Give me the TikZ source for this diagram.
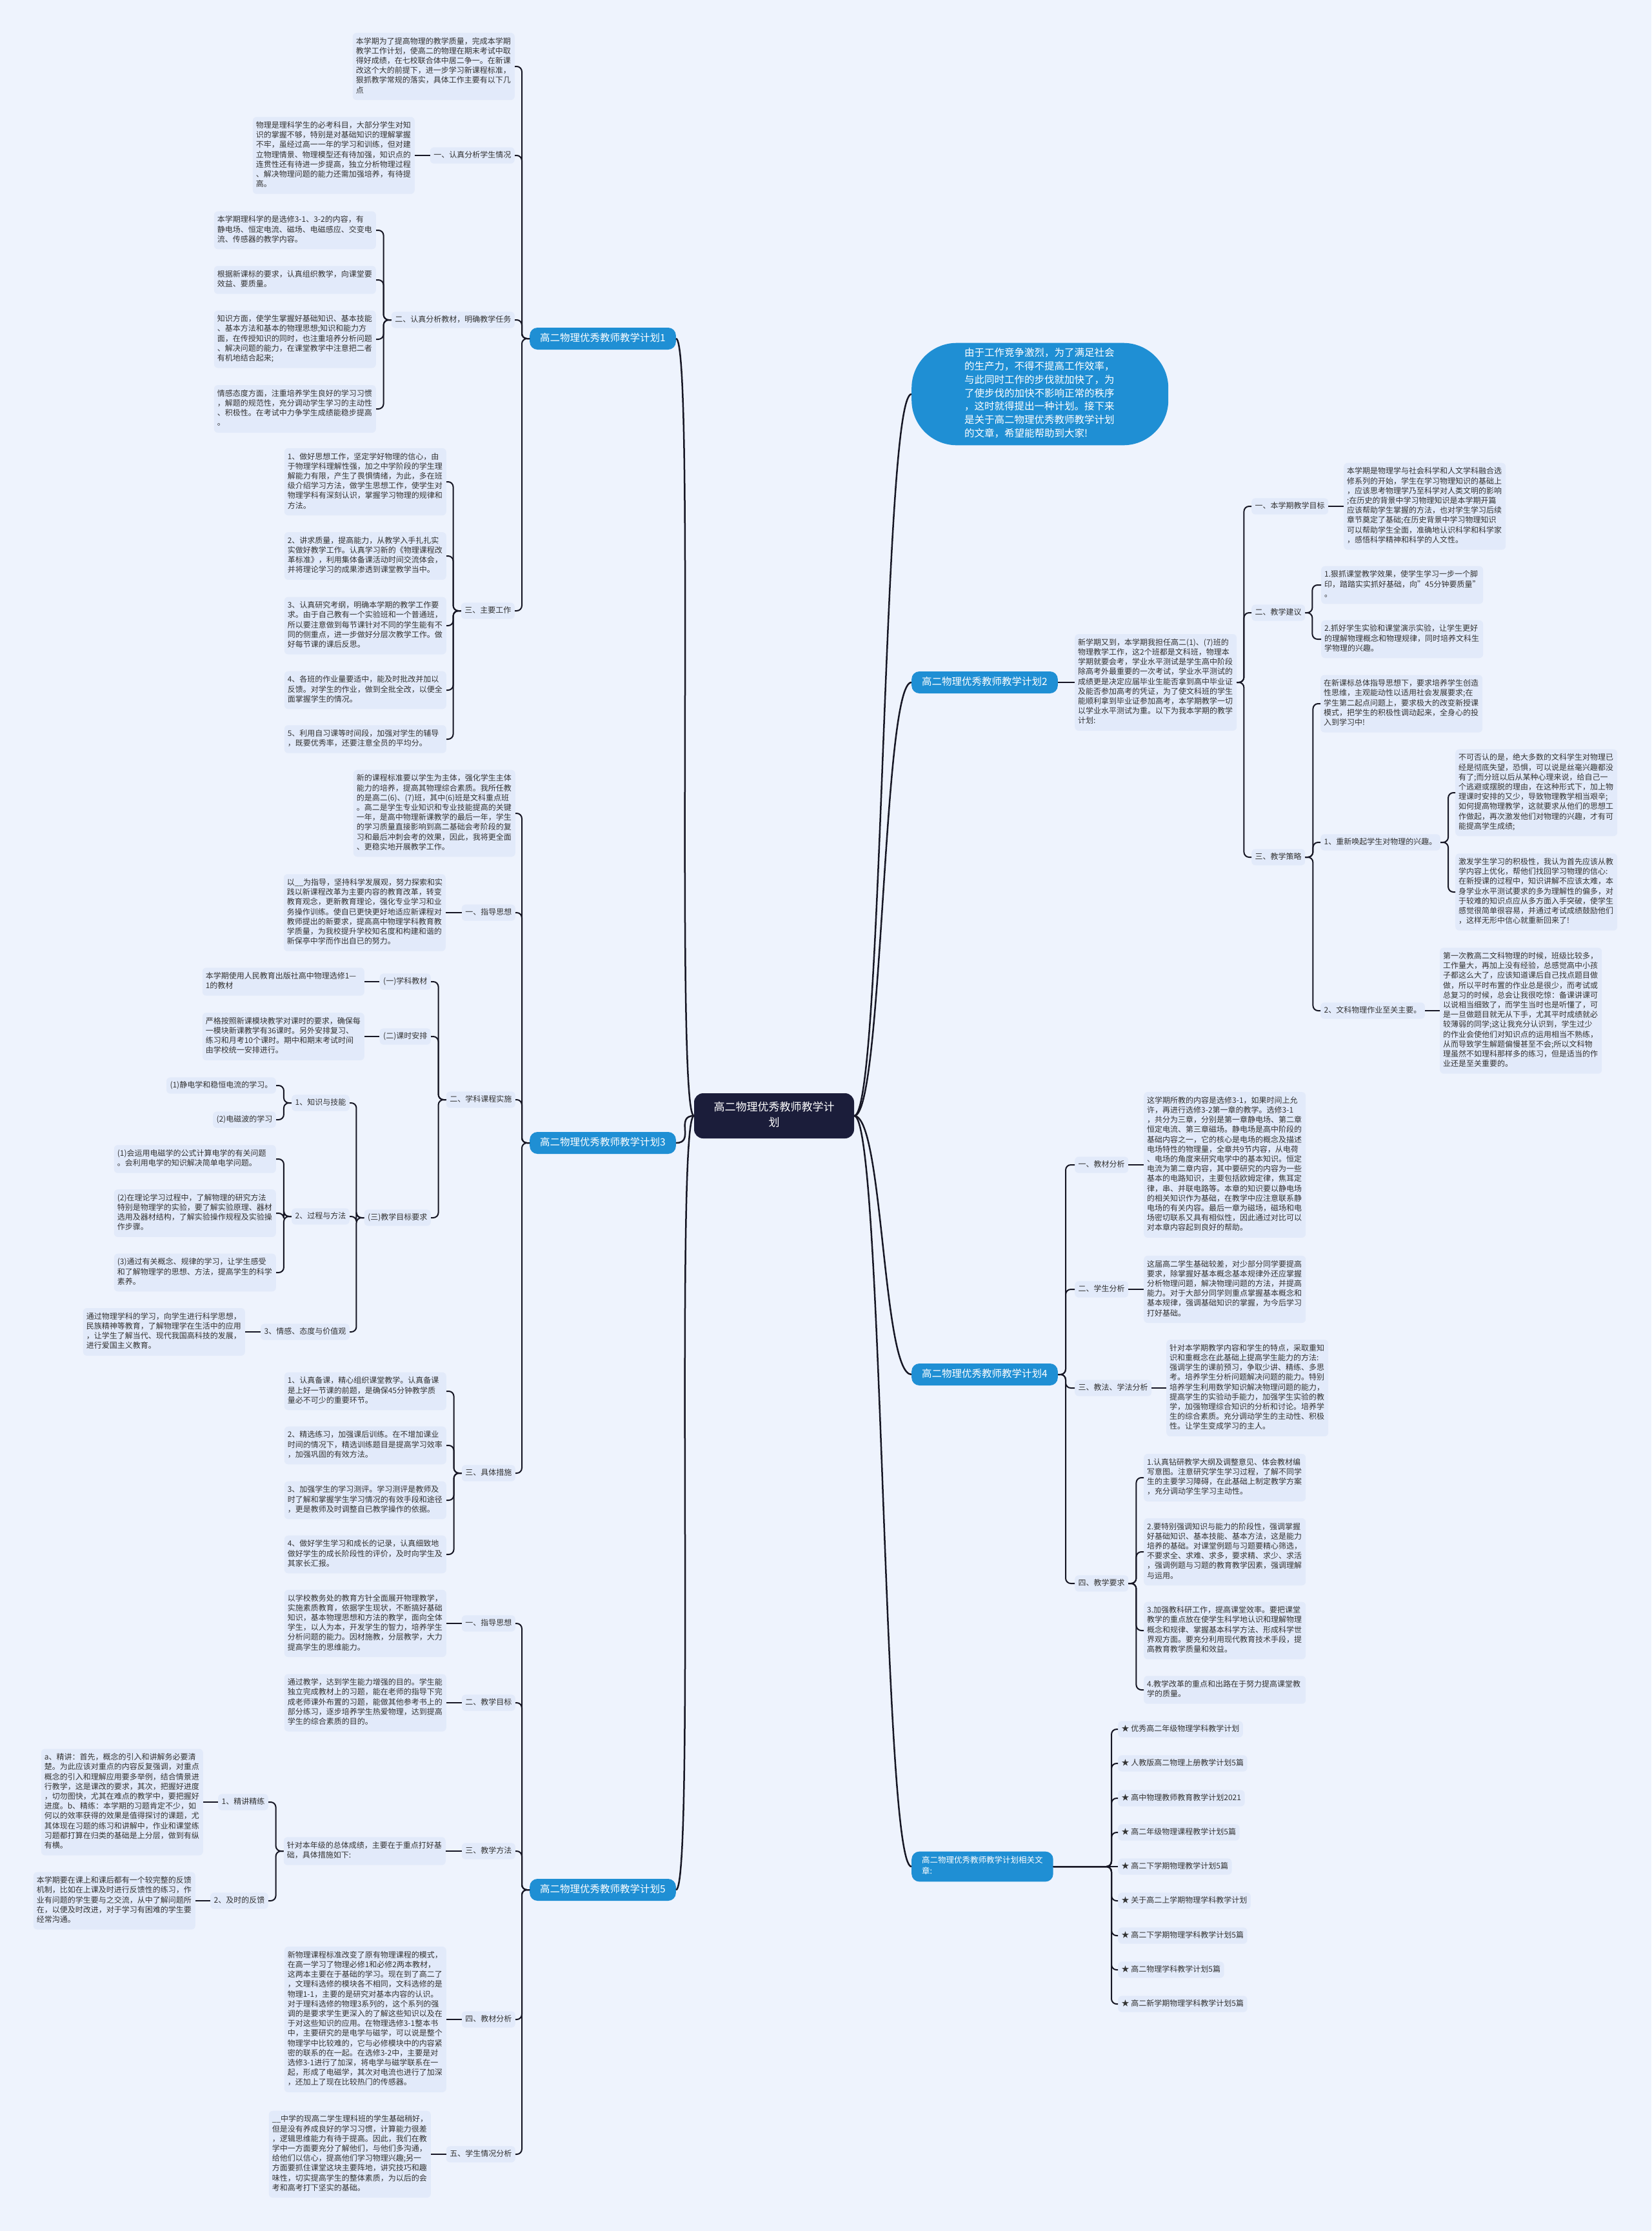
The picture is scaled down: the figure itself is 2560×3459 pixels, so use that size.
\documentclass[tikz,border=0pt]{standalone}
\usepackage{fontspec}
\setmainfont{Noto Sans CJK SC}
\definecolor{bgcol}{RGB}{238,243,253}
\definecolor{boxcol}{RGB}{226,234,250}
\definecolor{plancol}{RGB}{31,143,212}
\definecolor{rootcol}{RGB}{27,29,58}
\definecolor{linecol}{RGB}{22,22,36}
\definecolor{txtcol}{RGB}{51,51,51}
\begin{document}
\begin{tikzpicture}[x=1pt, y=-1pt,
  txt/.style={fill=boxcol, text=txtcol, rounded corners=6pt, text width=241pt, align=left, inner xsep=5pt, inner ysep=6.5pt, font=\fontsize{12}{15.2}\selectfont, execute at begin node=\strut, execute at end node=\strut},
  lbl/.style={fill=boxcol, text=txtcol, rounded corners=6pt, inner xsep=5.5pt, inner ysep=5pt, font=\fontsize{12}{15.2}\selectfont, execute at begin node=\strut},
  plan/.style={fill=plancol, text=white, rounded corners=12pt, inner xsep=16pt, inner ysep=7pt, font=\fontsize{15.5}{20}\selectfont, execute at begin node=\strut},
  relbox/.style={fill=plancol, text=white, rounded corners=12pt, align=left, inner xsep=16pt, inner ysep=7pt, font=\fontsize{12.5}{17}\selectfont, execute at begin node=\strut, execute at end node=\strut},
  introbox/.style={fill=plancol, text=white, rounded corners=70pt, text width=234pt, align=left, inner xsep=82pt, inner ysep=6.5pt, font=\fontsize{15.5}{20.8}\selectfont, execute at begin node=\strut, execute at end node=\strut},
  rootbox/.style={fill=rootcol, text=white, rounded corners=14pt, text width=188pt, align=center, inner xsep=30pt, inner ysep=11pt, font=\fontsize{17}{24}\selectfont, execute at begin node=\strut, execute at end node=\strut},
  link/.style={draw=linecol, line width=2pt, rounded corners=8pt},
  mainlink/.style={draw=linecol, line width=2.5pt}]
\fill[bgcol] (0,0) rectangle (2560,3459);
\useasboundingbox (0,0) rectangle (2560,3459);
\node[rootbox] (root) at (1200,1730) {高二物理优秀教师教学计\\划};
\node[plan, anchor=east] (p1) at (1048,525) {高二物理优秀教师教学计划1};
\node[plan, anchor=east] (p3) at (1048,1772) {高二物理优秀教师教学计划3};
\node[plan, anchor=east] (p5) at (1048,2930) {高二物理优秀教师教学计划5};
\node[introbox, anchor=west] (intro) at (1413,611) {由于工作竞争激烈，为了满足社会\\的生产力，不得不提高工作效率，\\与此同时工作的步伐就加快了，为\\了使步伐的加快不影响正常的秩序\\，这时就得提出一种计划。接下来\\是关于高二物理优秀教师教学计划\\的文章，希望能帮助到大家!};
\node[plan, anchor=west] (p2) at (1413,1058) {高二物理优秀教师教学计划2};
\node[plan, anchor=west] (p4) at (1413,2131) {高二物理优秀教师教学计划4};
\node[relbox, anchor=west] (p6) at (1413,2894) {高二物理优秀教师教学计划相关文\\章:};
\node[txt, anchor=east] (b1a) at (798,103) {本学期为了提高物理的教学质量，完成本学期\\教学工作计划，使高二的物理在期末考试中取\\得好成绩，在七校联合体中居二争一。在新课\\改这个大的前提下，进一步学习新课程标准，\\狠抓教学常规的落实，具体工作主要有以下几\\点};
\node[lbl, anchor=east] (l1a) at (798,241) {一、认真分析学生情况};
\node[txt, anchor=east] (b1b) at (643,241) {物理是理科学生的必考科目，大部分学生对知\\识的掌握不够，特别是对基础知识的理解掌握\\不牢，虽经过高一一年的学习和训练，但对建\\立物理情景、物理模型还有待加强，知识点的\\连贯性还有待进一步提高，独立分析物理过程\\、解决物理问题的能力还需加强培养，有待提\\高。};
\node[lbl, anchor=east] (l1b) at (798,496) {二、认真分析教材，明确教学任务};
\node[txt, anchor=east] (b1c1) at (583,357) {本学期理科学的是选修3-1、3-2的内容，有\\静电场、恒定电流、磁场、电磁感应、交变电\\流、传感器的教学内容。};
\node[txt, anchor=east] (b1c2) at (583,434) {根据新课标的要求，认真组织教学，向课堂要\\效益、要质量。};
\node[txt, anchor=east] (b1c3) at (583,526) {知识方面，使学生掌握好基础知识、基本技能\\、基本方法和基本的物理思想;知识和能力方\\面，在传授知识的同时，也注重培养分析问题\\、解决问题的能力，在课堂教学中注意把二者\\有机地结合起来;};
\node[txt, anchor=east] (b1c4) at (583,634) {情感态度方面，注重培养学生良好的学习习惯\\，解题的规范性，充分调动学生学习的主动性\\、积极性。在考试中力争学生成绩能稳步提高\\。};
\node[lbl, anchor=east] (l1c) at (798,947) {三、主要工作};
\node[txt, anchor=east] (b1d1) at (692,747) {1、做好思想工作，坚定学好物理的信心，由\\于物理学科理解性强，加之中学阶段的学生理\\解能力有限，产生了畏惧情绪，为此，多在班\\级介绍学习方法，做学生思想工作，使学生对\\物理学科有深刻认识，掌握学习物理的规律和\\方法。};
\node[txt, anchor=east] (b1d2) at (692,862) {2、讲求质量，提高能力，从教学入手扎扎实\\实做好教学工作。认真学习新的《物理课程改\\革标准》，利用集体备课活动时间交流体会，\\并将理论学习的成果渗透到课堂教学当中。};
\node[txt, anchor=east] (b1d3) at (692,970) {3、认真研究考纲，明确本学期的教学工作要\\求。由于自己教有一个实验班和一个普通班，\\所以要注意做到每节课针对不同的学生能有不\\同的侧重点，进一步做好分层次教学工作。做\\好每节课的课后反思。};
\node[txt, anchor=east] (b1d4) at (692,1070) {4、各班的作业量要适中，能及时批改并加以\\反馈。对学生的作业，做到全批全改，以便全\\面掌握学生的情况。};
\node[txt, anchor=east] (b1d5) at (692,1146) {5、利用自习课等时间段，加强对学生的辅导\\，既要优秀率，还要注意全员的平均分。};
\node[txt, anchor=east] (b3a) at (799,1261) {新的课程标准要以学生为主体，强化学生主体\\能力的培养，提高其物理综合素质。我所任教\\的是高二(6)、(7)班，其中(6)班是文科重点班\\。高二是学生专业知识和专业技能提高的关键\\一年，是高中物理新课教学的最后一年，学生\\的学习质量直接影响到高二基础会考阶段的复\\习和最后冲刺会考的效果，因此，我将更全面\\、更稳实地开展教学工作。};
\node[lbl, anchor=east] (l3a) at (799,1415) {一、指导思想};
\node[txt, anchor=east] (b3b) at (691,1415) {以\_\_为指导，坚持科学发展观，努力探索和实\\践以新课程改革为主要内容的教育改革，转变\\教育观念，更新教育理论，强化专业学习和业\\务操作训练。使自已更快更好地适应新课程对\\教师提出的新要求，提高高中物理学科教育教\\学质量，为我校提升学校知名度和构建和谐的\\新保亭中学而作出自已的努力。};
\node[lbl, anchor=east] (l3b) at (799,1705) {二、学科课程实施};
\node[lbl, anchor=east] (l3b1) at (668,1522) {(一)学科教材};
\node[txt, anchor=east] (b3c1) at (565,1522) {本学期使用人民教育出版社高中物理选修1—\\1的教材};
\node[lbl, anchor=east] (l3b2) at (668,1607) {(二)课时安排};
\node[txt, anchor=east] (b3c2) at (565,1607) {严格按照新课模块教学对课时的要求，确保每\\一模块新课教学有36课时。另外安排复习、\\练习和月考10个课时。期中和期末考试时间\\由学校统一安排进行。};
\node[lbl, anchor=east] (l3b3) at (668,1888) {(三)教学目标要求};
\node[lbl, anchor=east] (l3k) at (542,1710) {1、知识与技能};
\node[lbl, anchor=east] (k1) at (428,1683) {(1)静电学和稳恒电流的学习。};
\node[lbl, anchor=east] (k2) at (428,1736) {(2)电磁波的学习};
\node[lbl, anchor=east] (l3p) at (542,1886) {2、过程与方法};
\node[txt, anchor=east] (pm1) at (428,1797) {(1)会运用电磁学的公式计算电学的有关问题\\。会利用电学的知识解决简单电学问题。};
\node[txt, anchor=east] (pm2) at (428,1881) {(2)在理论学习过程中，了解物理的研究方法\\特别是物理学的实验，要了解实验原理、器材\\选用及器材结构，了解实验操作规程及实验操\\作步骤。};
\node[txt, anchor=east] (pm3) at (428,1973) {(3)通过有关概念、规律的学习，让学生感受\\和了解物理学的思想、方法，提高学生的科学\\素养。};
\node[lbl, anchor=east] (l3e) at (542,2065) {3、情感、态度与价值观};
\node[txt, anchor=east] (b3e) at (380,2065) {通过物理学科的学习，向学生进行科学思想，\\民族精神等教育，了解物理学在生活中的应用\\，让学生了解当代、现代我国高科技的发展，\\进行爱国主义教育。};
\node[lbl, anchor=east] (l3d) at (799,2284) {三、具体措施};
\node[txt, anchor=east] (b3d1) at (692,2157) {1、认真备课，精心组织课堂教学。认真备课\\是上好一节课的前题，是确保45分钟教学质\\量必不可少的重要环节。};
\node[txt, anchor=east] (b3d2) at (692,2241) {2、精选练习，加强课后训练。在不增加课业\\时间的情况下，精选训练题目是提高学习效率\\，加强巩固的有效方法。};
\node[txt, anchor=east] (b3d3) at (692,2326) {3、加强学生的学习测评。学习测评是教师及\\时了解和掌握学生学习情况的有效手段和途径\\，更是教师及时调整自已教学操作的依据。};
\node[txt, anchor=east] (b3d4) at (692,2410) {4、做好学生学习和成长的记录，认真细致地\\做好学生的成长阶段性的评价，及时向学生及\\其家长汇报。};
\node[lbl, anchor=east] (l5a) at (799,2517) {一、指导思想};
\node[txt, anchor=east] (b5a) at (692,2517) {以学校教务处的教育方针全面展开物理教学，\\实施素质教育，依据学生现状，不断搞好基础\\知识，基本物理思想和方法的教学，面向全体\\学生，以人为本，开发学生的智力，培养学生\\分析问题的能力。因材施教，分层教学，大力\\提高学生的思维能力。};
\node[lbl, anchor=east] (l5b) at (799,2640) {二、教学目标};
\node[txt, anchor=east] (b5b) at (692,2640) {通过教学，达到学生能力增强的目的。学生能\\独立完成教材上的习题，能在老师的指导下完\\成老师课外布置的习题，能做其他参考书上的\\部分练习，逐步培养学生热爱物理，达到提高\\学生的综合素质的目的。};
\node[lbl, anchor=east] (l5c) at (799,2870) {三、教学方法};
\node[txt, anchor=east] (b5c) at (691,2870) {针对本年级的总体成绩，主要在于重点打好基\\础，具体措施如下:};
\node[lbl, anchor=east] (l5c1) at (416,2794) {1、精讲精练};
\node[txt, anchor=east] (b5c1) at (315,2794) {a、精讲：首先，概念的引入和讲解务必要清\\楚。为此应该对重点的内容反复强调，对重点\\概念的引入和理解应用要多举例，结合情景进\\行教学，这是课改的要求，其次，把握好进度\\，切勿图快，尤其在难点的教学中，要把握好\\进度。b、精练：本学期的习题肯定不少，如\\何以的效率获得的效果是值得探讨的课题，尤\\其体现在习题的练习和讲解中，作业和课堂练\\习题都打算在归类的基础是上分层，做到有纵\\有横。};
\node[lbl, anchor=east] (l5c2) at (416,2947) {2、及时的反馈};
\node[txt, anchor=east] (b5c2) at (303,2947) {本学期要在课上和课后都有一个较完整的反馈\\机制，比如在上课及时进行反馈性的练习，作\\业有问题的学生要与之交流，从中了解问题所\\在，以便及时改进，对于学习有困难的学生要\\经常沟通。};
\node[lbl, anchor=east] (l5d) at (799,3131) {四、教材分析};
\node[txt, anchor=east] (b5d) at (692,3131) {新物理课程标准改变了原有物理课程的模式，\\在高一学习了物理必修1和必修2两本教材，\\这两本主要在于基础的学习。现在到了高二了\\，文理科选修的模块各不相同，文科选修的是\\物理1-1，主要的是研究对基本内容的认识。\\对于理科选修的物理3系列的，这个系列的强\\调的是要求学生更深入的了解这些知识以及在\\于对这些知识的应用。在物理选修3-1整本书\\中，主要研究的是电学与磁学，可以说是整个\\物理学中比较难的，它与必修模块中的内容紧\\密的联系的在一起。在选修3-2中，主要是对\\选修3-1进行了加深，将电学与磁学联系在一\\起，形成了电磁学，其次对电流也进行了加深\\，还加上了现在比较热门的传感器。};
\node[lbl, anchor=east] (l5e) at (799,3340) {五、学生情况分析};
\node[txt, anchor=east] (b5e) at (668,3340) {\_\_中学的现高二学生理科班的学生基础稍好，\\但是没有养成良好的学习习惯，计算能力很差\\，逻辑思维能力有待于提高。因此，我们在教\\学中一方面要充分了解他们，与他们多沟通，\\给他们以信心，提高他们学习物理兴趣;另一\\方面要抓住课堂这块主要阵地，讲究技巧和趣\\味性，切实提高学生的整体素质，为以后的会\\考和高考打下坚实的基础。};
\node[txt, anchor=west] (b2a) at (1666,1058) {新学期又到，本学期我担任高二(1)、(7)班的\\物理教学工作，这2个班都是文科班，物理本\\学期就要会考，学业水平测试是学生高中阶段\\除高考外最重要的一次考试，学业水平测试的\\成绩更是决定应届毕业生能否拿到高中毕业证\\及能否参加高考的凭证，为了使文科班的学生\\能顺利拿到毕业证参加高考，本学期教学一切\\以学业水平测试为重。以下为我本学期的教学\\计划:};
\node[lbl, anchor=west] (l2a) at (1940,785) {一、本学期教学目标};
\node[txt, anchor=west] (b2b) at (2083,785) {本学期是物理学与社会科学和人文学科融合选\\修系列的开始，学生在学习物理知识的基础上\\，应该思考物理学乃至科学对人类文明的影响\\;在历史的背景中学习物理知识是本学期开篇\\应该帮助学生掌握的方法，也对学生学习后续\\章节奠定了基础;在历史背景中学习物理知识\\可以帮助学生全面，准确地认识科学和科学家\\，感悟科学精神和科学的人文性。};
\node[lbl, anchor=west] (l2b) at (1940,950) {二、教学建议};
\node[txt, anchor=west] (b2c1) at (2048,907) {1.狠抓课堂教学效果，使学生学习一步一个脚\\印，踏踏实实抓好基础，向"45分钟要质量"\\。};
\node[txt, anchor=west] (b2c2) at (2048,991) {2.抓好学生实验和课堂演示实验，让学生更好\\的理解物理概念和物理规律，同时培养文科生\\学物理的兴趣。};
\node[lbl, anchor=west] (l2c) at (1940,1329) {三、教学策略};
\node[txt, anchor=west] (b2d) at (2047,1091) {在新课标总体指导思想下，要求培养学生创造\\性思维，主观能动性以适用社会发展要求;在\\学生第二起点问题上，要求极大的改变新授课\\模式，把学生的积极性调动起来，全身心的投\\入到学习中!};
\node[lbl, anchor=west] (l2d1) at (2047,1306) {1、重新唤起学生对物理的兴趣。};
\node[txt, anchor=west] (b2d1a) at (2256,1229) {不可否认的是，绝大多数的文科学生对物理已\\经是彻底失望，恐惧，可以说是丝毫兴趣都没\\有了;而分班以后从某种心理来说，给自己一\\个逃避或摆脱的理由，在这种形式下，加上物\\理课时安排的又少，导致物理教学相当艰辛;\\如何提高物理教学，这就要求从他们的思想工\\作做起，再次激发他们对物理的兴趣，才有可\\能提高学生成绩;};
\node[txt, anchor=west] (b2d1b) at (2256,1383) {激发学生学习的积极性，我认为首先应该从教\\学内容上优化，帮他们找回学习物理的信心:\\在新授课的过程中，知识讲解不应该太难，本\\身学业水平测试要求的多为理解性的偏多，对\\于较难的知识点应从多方面入手突破，使学生\\感觉很简单很容易，并通过考试成绩鼓励他们\\，这样无形中信心就重新回来了!};
\node[lbl, anchor=west] (l2d2) at (2047,1567) {2、文科物理作业至关主要。};
\node[txt, anchor=west] (b2d2) at (2232,1567) {第一次教高二文科物理的时候，班级比较多，\\工作量大，再加上没有经验，总感觉高中小孩\\子都这么大了，应该知道课后自己找点题目做\\做，所以平时布置的作业总是很少，而考试或\\总复习的时候，总会让我很吃惊：备课讲课可\\以说相当细致了，而学生当时也是听懂了，可\\是一旦做题目就无从下手，尤其平时成绩就必\\较薄弱的同学;这让我充分认识到，学生过少\\的作业会使他们对知识点的运用相当不熟练，\\从而导致学生解题偏慢甚至不会;所以文科物\\理虽然不如理科那样多的练习，但是适当的作\\业还是至关重要的。};
\node[lbl, anchor=west] (l4a) at (1666,1806) {一、教材分析};
\node[txt, anchor=west] (b4a) at (1773,1806) {这学期所教的内容是选修3-1，如果时间上允\\许，再进行选修3-2第一章的教学。选修3-1\\，共分为三章，分别是第一章静电场、第二章\\恒定电流、第三章磁场。静电场是高中阶段的\\基础内容之一，它的核心是电场的概念及描述\\电场特性的物理量，全章共9节内容，从电荷\\、电场的角度来研究电学中的基本知识。恒定\\电流为第二章内容，其中要研究的内容为一些\\基本的电路知识，主要包括欧姆定律，焦耳定\\律，串、并联电路等。本章的知识要以静电场\\的相关知识作为基础，在教学中应注意联系静\\电场的有关内容。最后一章为磁场，磁场和电\\场密切联系又具有相似性，因此通过对比可以\\对本章内容起到良好的帮助。};
\node[lbl, anchor=west] (l4b) at (1666,1999) {二、学生分析};
\node[txt, anchor=west] (b4b) at (1773,1999) {这届高二学生基础较差，对少部分同学要提高\\要求，除掌握好基本概念基本规律外还应掌握\\分析物理问题，解决物理问题的方法，并提高\\能力。对于大部分同学则重点掌握基本概念和\\基本规律，强调基础知识的掌握，为今后学习\\打好基础。};
\node[lbl, anchor=west] (l4c) at (1666,2152) {三、教法、学法分析};
\node[txt, anchor=west] (b4c) at (1808,2152) {针对本学期教学内容和学生的特点，采取重知\\识和重概念在此基础上提高学生能力的方法:\\强调学生的课前预习，争取少讲、精练、多思\\考。培养学生分析问题解决问题的能力。特别\\培养学生利用数学知识解决物理问题的能力，\\提高学生的实验动手能力，加强学生实验的教\\学，加强物理综合知识的分析和讨论。培养学\\生的综合素质。充分调动学生的主动性、积极\\性。让学生变成学习的主人。};
\node[lbl, anchor=west] (l4d) at (1666,2455) {四、教学要求};
\node[txt, anchor=west] (b4d1) at (1773,2291) {1.认真钻研教学大纲及调整意见、体会教材编\\写意图。注意研究学生学习过程，了解不同学\\生的主要学习障碍，在此基础上制定教学方案\\，充分调动学生学习主动性。};
\node[txt, anchor=west] (b4d2) at (1773,2406) {2.要特别强调知识与能力的阶段性，强调掌握\\好基础知识、基本技能、基本方法，这是能力\\培养的基础。对课堂例题与习题要精心筛选，\\不要求全、求难、求多，要求精、求少、求活\\，强调例题与习题的教育教学因素，强调理解\\与运用。};
\node[txt, anchor=west] (b4d3) at (1773,2528) {3.加强教科研工作，提高课堂效率。要把课堂\\教学的重点放在使学生科学地认识和理解物理\\概念和规律、掌握基本科学方法、形成科学世\\界观方面。要充分利用现代教育技术手段，提\\高教育教学质量和效益。};
\node[txt, anchor=west] (b4d4) at (1773,2620) {4.教学改革的重点和出路在于努力提高课堂教\\学的质量。};
\node[lbl, anchor=west] (r1) at (1733,2681) {★ 优秀高二年级物理学科教学计划};
\node[lbl, anchor=west] (r2) at (1733,2734) {★ 人教版高二物理上册教学计划5篇};
\node[lbl, anchor=west] (r3) at (1733,2788) {★ 高中物理教师教育教学计划2021};
\node[lbl, anchor=west] (r4) at (1733,2841) {★ 高二年级物理课程教学计划5篇};
\node[lbl, anchor=west] (r5) at (1733,2894) {★ 高二下学期物理教学计划5篇};
\node[lbl, anchor=west] (r6) at (1733,2947) {★ 关于高二上学期物理学科教学计划};
\node[lbl, anchor=west] (r7) at (1733,3001) {★ 高二下学期物理学科教学计划5篇};
\node[lbl, anchor=west] (r8) at (1733,3054) {★ 高二物理学科教学计划5篇};
\node[lbl, anchor=west] (r9) at (1733,3107) {★ 高二新学期物理学科教学计划5篇};
\coordinate (rs) at (1723,2894);
\draw[mainlink] (root.west) .. controls +(-30,0) and +(30,0) .. (p1.east);
\draw[mainlink] (root.west) .. controls +(-30,0) and +(30,0) .. (p3.east);
\draw[mainlink] (root.west) .. controls +(-30,0) and +(30,0) .. (p5.east);
\draw[mainlink] (root.east) .. controls +(45,0) and +(-45,0) .. (intro.west);
\draw[mainlink] (root.east) .. controls +(45,0) and +(-45,0) .. (p2.west);
\draw[mainlink] (root.east) .. controls +(45,0) and +(-45,0) .. (p4.west);
\draw[mainlink] (root.east) .. controls +(45,0) and +(-45,0) .. (p6.west);
\draw[link] (p1.west) -- ++(-12,0) |- (b1a.east);
\draw[link] (p1.west) -- ++(-12,0) |- (l1a.east);
\draw[link] (p1.west) -- ++(-12,0) |- (l1b.east);
\draw[link] (p1.west) -- ++(-12,0) |- (l1c.east);
\draw[link] (l1a.west) -- (b1b.east);
\draw[link] (l1b.west) -- ++(-12,0) |- (b1c1.east);
\draw[link] (l1b.west) -- ++(-12,0) |- (b1c2.east);
\draw[link] (l1b.west) -- ++(-12,0) |- (b1c3.east);
\draw[link] (l1b.west) -- ++(-12,0) |- (b1c4.east);
\draw[link] (l1c.west) -- ++(-12,0) |- (b1d1.east);
\draw[link] (l1c.west) -- ++(-12,0) |- (b1d2.east);
\draw[link] (l1c.west) -- ++(-12,0) |- (b1d3.east);
\draw[link] (l1c.west) -- ++(-12,0) |- (b1d4.east);
\draw[link] (l1c.west) -- ++(-12,0) |- (b1d5.east);
\draw[link] (p3.west) -- ++(-12,0) |- (b3a.east);
\draw[link] (p3.west) -- ++(-12,0) |- (l3a.east);
\draw[link] (p3.west) -- ++(-12,0) |- (l3b.east);
\draw[link] (p3.west) -- ++(-12,0) |- (l3d.east);
\draw[link] (l3a.west) -- (b3b.east);
\draw[link] (l3b.west) -- ++(-12,0) |- (l3b1.east);
\draw[link] (l3b.west) -- ++(-12,0) |- (l3b2.east);
\draw[link] (l3b.west) -- ++(-12,0) |- (l3b3.east);
\draw[link] (l3b1.west) -- (b3c1.east);
\draw[link] (l3b2.west) -- (b3c2.east);
\draw[link] (l3b3.west) -- ++(-12,0) |- (l3k.east);
\draw[link] (l3b3.west) -- ++(-12,0) |- (l3p.east);
\draw[link] (l3b3.west) -- ++(-12,0) |- (l3e.east);
\draw[link] (l3k.west) -- ++(-12,0) |- (k1.east);
\draw[link] (l3k.west) -- ++(-12,0) |- (k2.east);
\draw[link] (l3p.west) -- ++(-12,0) |- (pm1.east);
\draw[link] (l3p.west) -- ++(-12,0) |- (pm2.east);
\draw[link] (l3p.west) -- ++(-12,0) |- (pm3.east);
\draw[link] (l3e.west) -- (b3e.east);
\draw[link] (l3d.west) -- ++(-12,0) |- (b3d1.east);
\draw[link] (l3d.west) -- ++(-12,0) |- (b3d2.east);
\draw[link] (l3d.west) -- ++(-12,0) |- (b3d3.east);
\draw[link] (l3d.west) -- ++(-12,0) |- (b3d4.east);
\draw[link] (p5.west) -- ++(-12,0) |- (l5a.east);
\draw[link] (p5.west) -- ++(-12,0) |- (l5b.east);
\draw[link] (p5.west) -- ++(-12,0) |- (l5c.east);
\draw[link] (p5.west) -- ++(-12,0) |- (l5d.east);
\draw[link] (p5.west) -- ++(-12,0) |- (l5e.east);
\draw[link] (l5a.west) -- (b5a.east);
\draw[link] (l5b.west) -- (b5b.east);
\draw[link] (l5c.west) -- (b5c.east);
\draw[link] (b5c.west) -- ++(-12,0) |- (l5c1.east);
\draw[link] (b5c.west) -- ++(-12,0) |- (l5c2.east);
\draw[link] (l5c1.west) -- (b5c1.east);
\draw[link] (l5c2.west) -- (b5c2.east);
\draw[link] (l5d.west) -- (b5d.east);
\draw[link] (l5e.west) -- (b5e.east);
\draw[link] (p2.east) -- (b2a.west);
\draw[link] (b2a.east) -- ++(11,0) |- (l2a.west);
\draw[link] (b2a.east) -- ++(11,0) |- (l2b.west);
\draw[link] (b2a.east) -- ++(11,0) |- (l2c.west);
\draw[link] (l2a.east) -- (b2b.west);
\draw[link] (l2b.east) -- ++(11,0) |- (b2c1.west);
\draw[link] (l2b.east) -- ++(11,0) |- (b2c2.west);
\draw[link] (l2c.east) -- ++(12,0) |- (b2d.west);
\draw[link] (l2c.east) -- ++(12,0) |- (l2d1.west);
\draw[link] (l2c.east) -- ++(12,0) |- (l2d2.west);
\draw[link] (l2d1.east) -- ++(12,0) |- (b2d1a.west);
\draw[link] (l2d1.east) -- ++(12,0) |- (b2d1b.west);
\draw[link] (l2d2.east) -- (b2d2.west);
\draw[link] (p4.east) -- ++(12,0) |- (l4a.west);
\draw[link] (p4.east) -- ++(12,0) |- (l4b.west);
\draw[link] (p4.east) -- ++(12,0) |- (l4c.west);
\draw[link] (p4.east) -- ++(12,0) |- (l4d.west);
\draw[link] (l4a.east) -- (b4a.west);
\draw[link] (l4b.east) -- (b4b.west);
\draw[link] (l4c.east) -- (b4c.west);
\draw[link] (l4d.east) -- ++(12,0) |- (b4d1.west);
\draw[link] (l4d.east) -- ++(12,0) |- (b4d2.west);
\draw[link] (l4d.east) -- ++(12,0) |- (b4d3.west);
\draw[link] (l4d.east) -- ++(12,0) |- (b4d4.west);
\draw[link] (p6.east) -- (rs) |- (r1.west);
\draw[link] (p6.east) -- (rs) |- (r2.west);
\draw[link] (p6.east) -- (rs) |- (r3.west);
\draw[link] (p6.east) -- (rs) |- (r4.west);
\draw[link] (p6.east) -- (r5.west);
\draw[link] (p6.east) -- (rs) |- (r6.west);
\draw[link] (p6.east) -- (rs) |- (r7.west);
\draw[link] (p6.east) -- (rs) |- (r8.west);
\draw[link] (p6.east) -- (rs) |- (r9.west);
\end{tikzpicture}
\end{document}
